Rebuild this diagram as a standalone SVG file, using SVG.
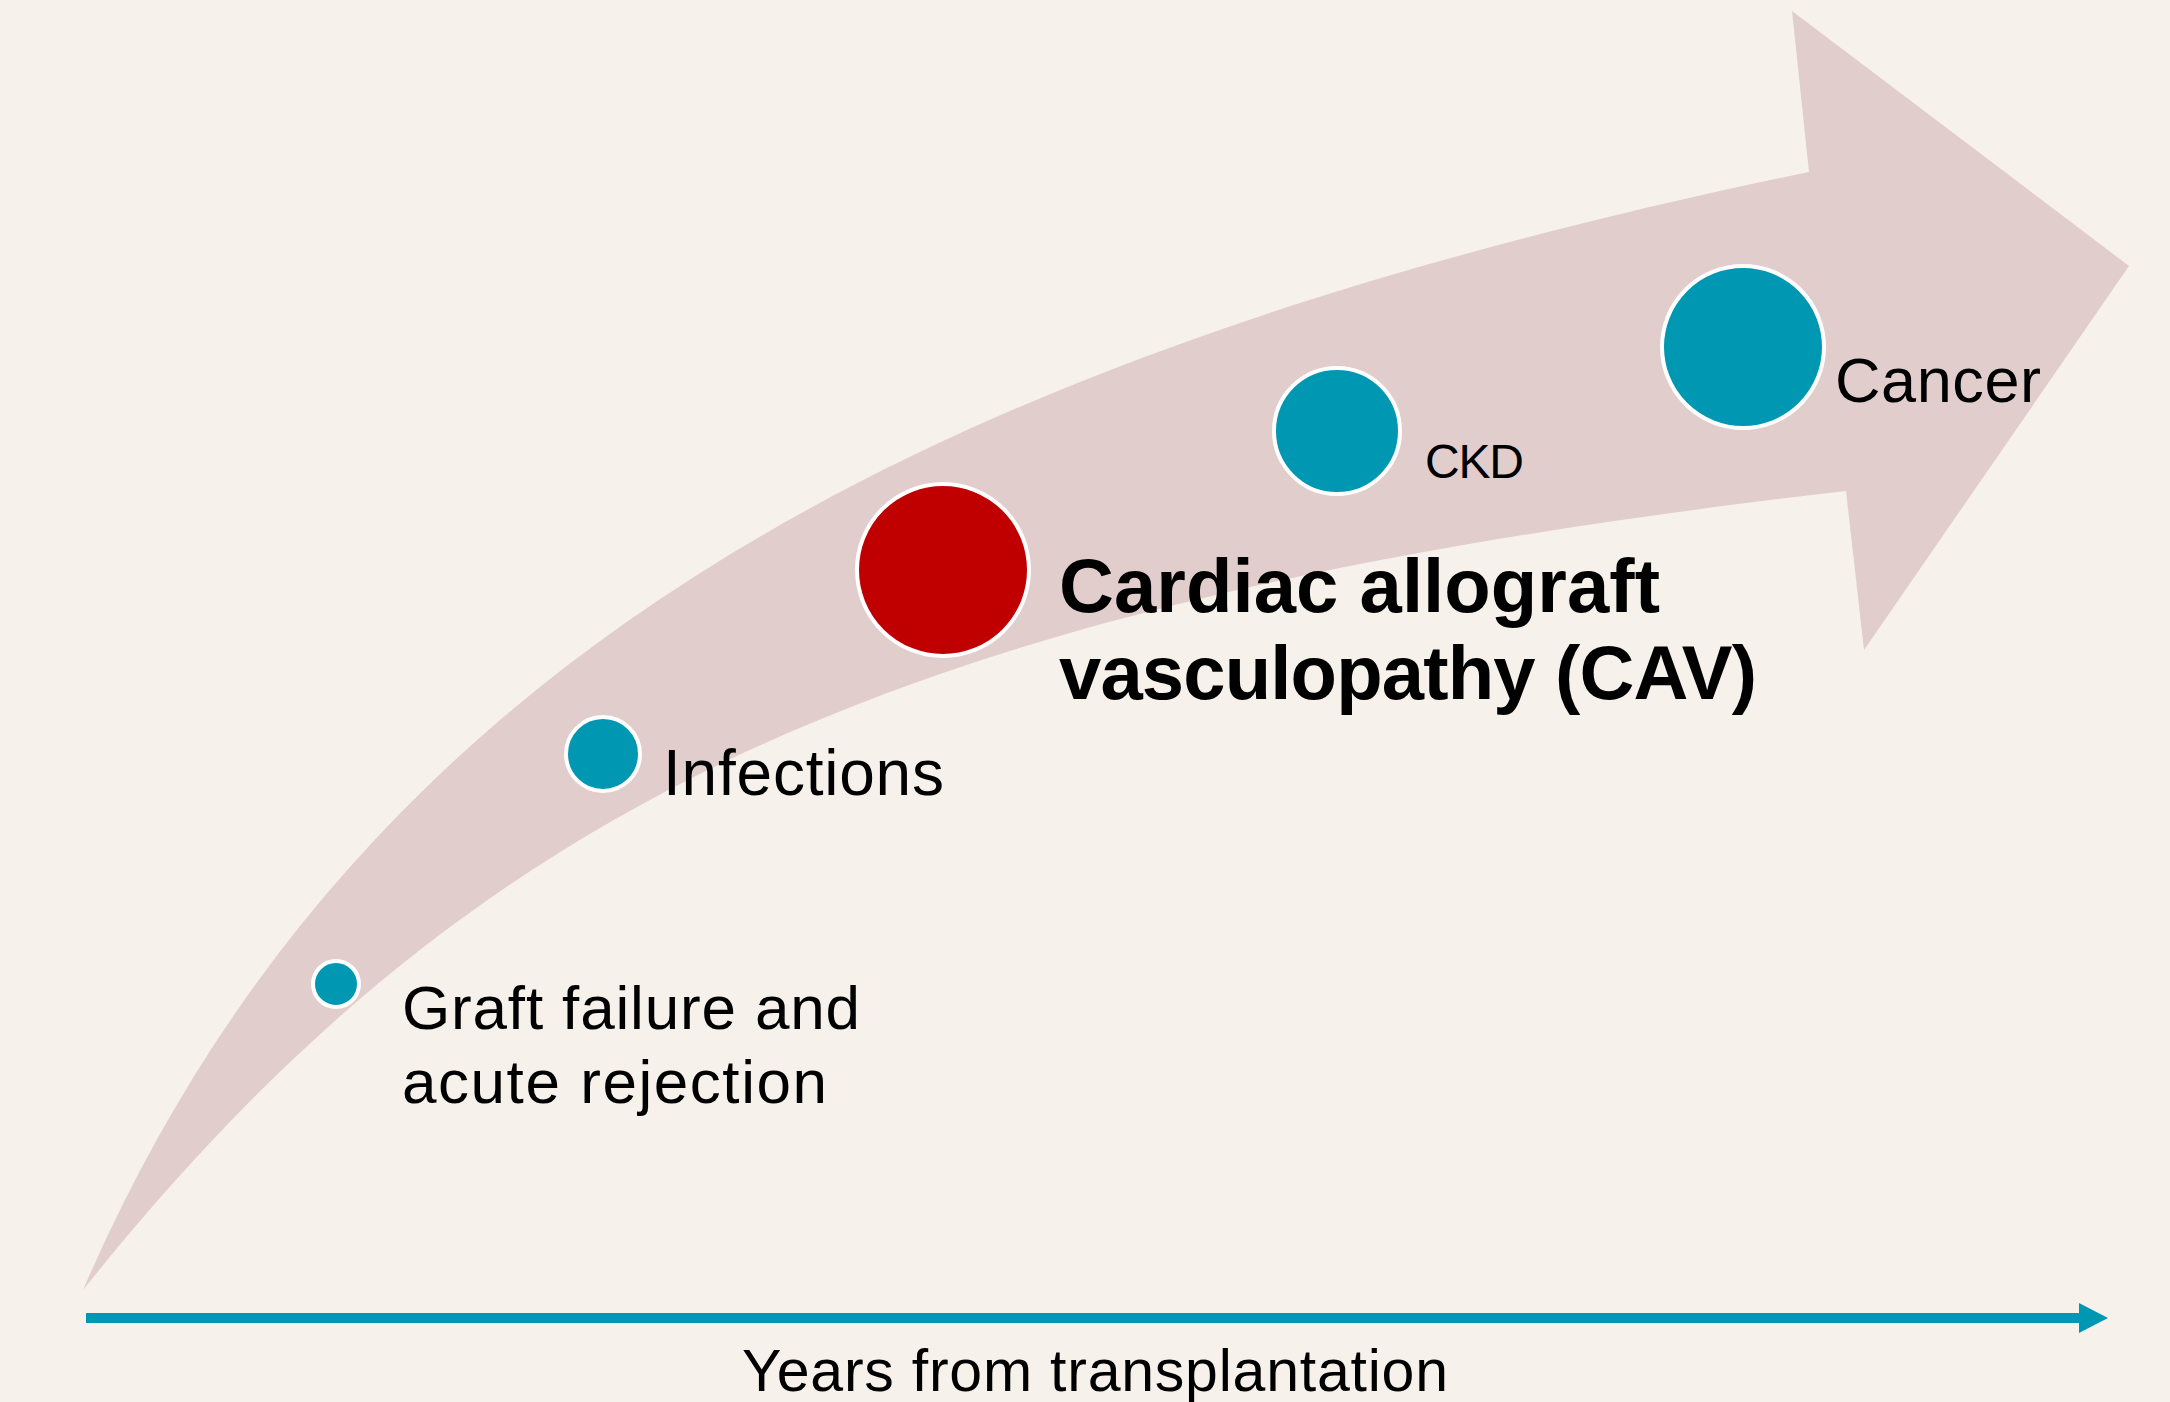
<svg xmlns="http://www.w3.org/2000/svg" width="2170" height="1402" viewBox="0 0 2170 1402">
  <style>
    .bg { fill: #F6F1EB; }
    .band { fill: #E2CDCD; }
    .dot { fill: #0097B2; stroke: #FFFFFF; stroke-width: 4; }
    .dot-red { fill: #C00000; stroke: #FFFFFF; stroke-width: 4; }
    .lbl { font-family: "Liberation Sans", Arial, sans-serif; fill: #000000; }
    .bold { font-weight: bold; }
    .axis { stroke: #0097B2; stroke-width: 10; fill: none; }
  </style>
  <defs>
    <marker id="axisHead" markerUnits="userSpaceOnUse" markerWidth="30" markerHeight="32" refX="0" refY="16" orient="auto">
      <path d="M0,1 L29,16 L0,31 Z" fill="#0097B2"/>
    </marker>
  </defs>
  <rect class="bg" x="0" y="0" width="2170" height="1402"/>

  <g id="timeline-arrow">
    <path class="band" d="M83,1290 C350,672 900,360 1809,172 L1792,11 L2129,266 L1864,650 L1846,491 C900,600 477,797 83,1290 Z"/>
  </g>

  <g id="connectors">
    <line class="axis" x1="86" y1="1318" x2="2079" y2="1318" marker-end="url(#axisHead)"/>
    <text class="lbl" x="742" y="1391" font-size="59" textLength="706">Years from transplantation</text>
  </g>

  <g id="node-graft">
    <circle class="dot" cx="336" cy="984" r="23"/>
    <text class="lbl" font-size="62"><tspan x="402" y="1029" textLength="458">Graft failure and</tspan><tspan x="402" y="1103" textLength="425">acute rejection</tspan></text>
  </g>

  <g id="node-infections">
    <circle class="dot" cx="603" cy="754" r="37"/>
    <text class="lbl" x="663" y="795" font-size="64" textLength="281">Infections</text>
  </g>

  <g id="node-cav">
    <circle class="dot-red" cx="943" cy="570" r="86"/>
    <text class="lbl bold" font-size="76"><tspan x="1059" y="612" textLength="601">Cardiac allograft</tspan><tspan x="1059" y="699" textLength="698">vasculopathy (CAV)</tspan></text>
  </g>

  <g id="node-ckd">
    <circle class="dot" cx="1337" cy="431" r="63"/>
    <text class="lbl" x="1425" y="478" font-size="48" textLength="99">CKD</text>
  </g>

  <g id="node-cancer">
    <circle class="dot" cx="1743" cy="347" r="81"/>
    <text class="lbl" x="1835" y="402" font-size="63" textLength="206">Cancer</text>
  </g>
</svg>
